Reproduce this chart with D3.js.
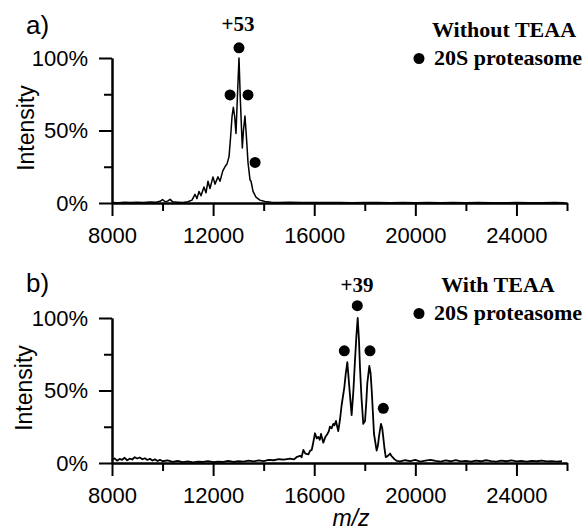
<!DOCTYPE html>
<html>
<head>
<meta charset="utf-8">
<script src="https://cdn.jsdelivr.net/npm/d3@7"></script>
<style>
body{margin:0;background:#fff}
svg{display:block}
</style>
</head>
<body>
<svg id="svg" width="588" height="531"></svg>
<script>
// m/z ticks
var xMajor=[8000,12000,16000,20000,24000];
var xMinor=[10000,14000,18000,22000,26000];
var yMajor=[0,50,100];
var yMinor=[25,75];

// spectrum a) without TEAA: [m/z, intensity %]
var spectrumA=[
 [8000,0.4],[8250,0.2],[8500,0.5],[8750,0.3],[9000,0.6],[9250,0.4],[9500,0.7],[9750,0.5],
 [9900,1.2],[10000,2.4],[10100,0.9],[10200,1.3],[10300,2.5],[10400,0.8],[10600,0.6],[10800,0.4],
 [11000,0.9],[11164,2],[11283,6],[11362,3],[11441,8],[11520,5],[11639,11],[11718,7],
 [11797,15],[11877,10],[11995,18],[12074,13],[12193,18],[12272,15],[12380,22],[12470,25],
 [12550,27],[12630,32],[12690,45],[12750,60],[12800,66],[12850,60],[12905,48],[12965,75],
 [13024,100],[13080,70],[13155,38],[13200,50],[13260,60],[13320,45],[13380,28],[13460,16],
 [13500,15],[13580,8],[13695,4],[13850,2],[14050,1],[14300,0.6],[14600,0.4],[15000,0.5],
 [15500,0.3],[16000,0.4],[16500,0.3],[17000,0.4],[17500,0.2],[18000,0.3],[18500,0.4],[19000,0.2],
 [19500,0.3],[20000,0.2],[20500,0.3],[21000,0.2],[21500,0.3],[22000,0.2],[22500,0.3],[23000,0.2],
 [23500,0.2],[24000,0.3],[24500,0.2],[25000,0.2],[25500,0.3],[25900,0.2]
];
var markersA=[[13024,107],[12670,74.5],[13380,74.5],[13660,28]];

// spectrum b) with TEAA
var spectrumB=[
 [8000,2.0],[8100,3.2],[8200,1.6],[8300,2.8],[8400,2.2],[8500,3.6],[8600,1.9],[8700,3.0],
 [8800,2.4],[8900,4.0],[9000,3.1],[9100,3.8],[9200,2.6],[9300,3.3],[9400,2.1],[9500,2.9],
 [9600,1.7],[9700,2.5],[9800,1.4],[9900,2.2],
 [10000,1.2],[10200,1.8],[10400,0.8],[10600,1.4],[10800,0.6],[11000,1.1],[11200,0.5],[11400,0.9],
 [11600,0.7],[11800,1.3],[12000,0.6],[12200,1.0],[12400,0.8],[12600,1.4],[12800,0.7],[13000,1.2],
 [13200,0.9],[13400,1.6],[13600,1.1],[13800,1.8],[14000,1.3],[14200,2.2],[14400,1.9],[14600,2.6],
 [14800,2.3],
 [15040,3],[15200,2.5],[15300,4],[15440,5],[15500,4],[15570,9],[15650,6.5],[15770,6],
 [15840,8.5],[15900,9],[15960,14],[16030,20.5],[16100,17],[16160,18],[16220,16],[16270,20],
 [16360,14],[16440,18],[16520,20],[16580,22],[16620,25],[16690,24],[16755,27],[16800,26],
 [16860,29],[16950,22],[17020,30],[17085,40],[17190,52],[17250,62],[17310,69.5],[17390,52],
 [17480,33],[17550,50],[17610,70],[17670,88],[17720,100],[17770,85],[17810,66],[17870,45],
 [17940,27],[18010,29],[18060,42],[18100,55],[18180,67],[18230,62],[18275,50],[18320,35],
 [18365,20],[18470,8.6],[18520,12],[18560,18],[18640,27],[18690,24],[18730,18],[18780,10],
 [18830,4],[18920,5],[19000,6.5],[19050,5],[19100,4],[19180,2.5],[19260,1.5],
 [19400,1.1],[19600,1.9],[19800,1.3],[20000,2.1],[20200,1.0],[20400,1.6],[20600,2.2],[20800,1.4],
 [21000,1.0],[21200,1.8],[21400,1.2],[21600,2.0],[21800,1.1],[22000,1.5],[22200,1.0],[22400,1.7],
 [22600,1.2],[22800,1.9],[23000,1.3],[23200,1.0],[23400,1.6],[23600,1.2],[23800,1.8],[24000,1.1],
 [24200,1.4],[24400,1.0],[24600,1.5],[24800,1.2],[25000,1.7],[25200,1.1],[25400,1.3],[25600,1.0],
 [25800,1.2]
];
var markersB=[[17704,108.5],[17190,77.4],[18206,77.4],[18733,37.7]];

var sans="'Liberation Sans', Arial, sans-serif";
var serif="'Liberation Serif', 'Times New Roman', serif";

var svg=d3.select("#svg");
var x=d3.scaleLinear().domain([8000,26000]).range([112,567]);

var panels=[
 {y0:203, spec:spectrumA, marks:markersA, tag:"a)", tagY:34, charge:"+53", chargeX:238, chargeY:31,
  title:"Without TEAA", titleX:504, titleY:37, legY:65, labelX:34, lw:1.5},
 {y0:463, spec:spectrumB, marks:markersB, tag:"b)", tagY:292, charge:"+39", chargeX:357, chargeY:292,
  title:"With TEAA", titleX:498, titleY:292, legY:320, labelX:32, lw:1.8}
];

function styleAxis(g){
    g.selectAll("path,line").attr("stroke","#000").attr("stroke-width",2);
    g.selectAll("text").attr("font-family",sans).attr("font-size",22).attr("fill","#000");
}

function panel(p){
    var y=d3.scaleLinear().domain([0,100]).range([p.y0,p.y0-145]);
    var g=svg.append("g");

    g.append("path").datum(p.spec)
    .attr("d",d3.line().x(function(d){return x(d[0])}).y(function(d){return y(d[1])}))
    .attr("fill","none").attr("stroke","#000").attr("stroke-width",p.lw).attr("stroke-linejoin","round");

    g.append("g").attr("transform","translate(0,"+p.y0+")")
    .call(d3.axisBottom(x).tickValues(xMinor).tickSize(8).tickSizeOuter(0).tickFormat(""))
    .call(styleAxis);
    g.append("g").attr("transform","translate(0,"+p.y0+")")
    .call(d3.axisBottom(x).tickValues(xMajor).tickSize(13).tickPadding(11).tickSizeOuter(0).tickFormat(d3.format("d")))
    .call(styleAxis);

    g.append("g").attr("transform","translate(112,0)")
    .call(d3.axisLeft(y).tickValues(yMinor).tickSize(8).tickSizeOuter(0).tickFormat(""))
    .call(styleAxis);
    g.append("g").attr("transform","translate(112,0)")
    .call(d3.axisLeft(y).tickValues(yMajor).tickSize(13).tickPadding(11).tickSizeOuter(0).tickFormat(function(d){return d+"%"}))
    .call(styleAxis);

    g.selectAll("circle.mark").data(p.marks).enter().append("circle")
    .attr("class","mark")
    .attr("cx",function(d){return x(d[0])})
    .attr("cy",function(d){return y(d[1])})
    .attr("r",5.5).attr("fill","#000");

    g.append("text").text(p.tag).attr("x",26).attr("y",p.tagY)
    .attr("font-family",sans).attr("font-size",26);

    g.append("text").text("Intensity")
    .attr("transform","translate("+p.labelX+","+(p.y0-75)+") rotate(-90)")
    .attr("text-anchor","middle").attr("font-family",sans).attr("font-size",23);

    g.append("text").text(p.charge).attr("x",p.chargeX).attr("y",p.chargeY)
    .attr("text-anchor","middle").attr("font-family",serif).attr("font-weight","bold").attr("font-size",21);

    g.append("text").text(p.title).attr("x",p.titleX).attr("y",p.titleY)
    .attr("text-anchor","middle").attr("font-family",serif).attr("font-weight","bold").attr("font-size",22);

    g.append("circle").attr("cx",419).attr("cy",p.legY-6.5).attr("r",5.5).attr("fill","#000");
    g.append("text").text("20S proteasome").attr("x",434).attr("y",p.legY)
    .attr("font-family",serif).attr("font-weight","bold").attr("font-size",22);
}

panels.forEach(panel);

svg.append("text").text("m/z").attr("x",351).attr("y",526)
.attr("text-anchor","middle").attr("font-family",sans).attr("font-style","italic").attr("font-size",23);
</script>
</body>
</html>
